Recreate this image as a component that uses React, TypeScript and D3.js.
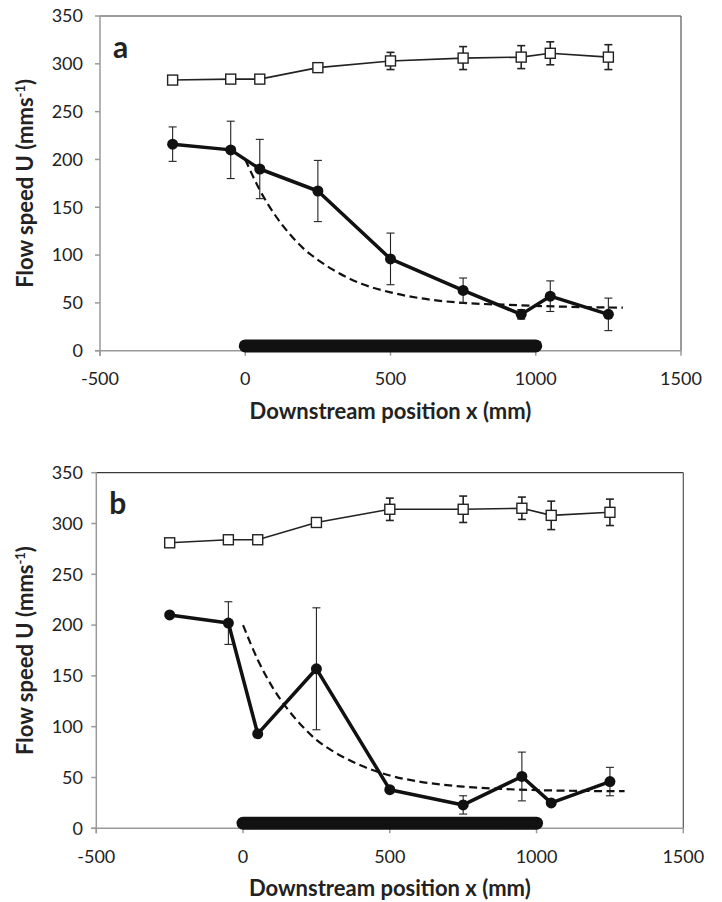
import * as d3 from 'd3'

// sampling positions along the flume (mm)
const xPos = [-250, -50, 50, 250, 500, 750, 950, 1050, 1250]

// panel a
const aOpen = [283, 284, 284, 296, 303, 306, 307, 311, 307]
const aOpenErr = [0, 0, 0, 0, 9, 12, 12, 12, 13]
const aFilled = [216, 210, 190, 167, 96, 63, 38, 57, 38]
const aFilledErr = [18, 30, 31, 32, 27, 13, 5, 16, 17]

// panel b
const bOpen = [281, 284, 284, 301, 314, 314, 315, 308, 311]
const bOpenErr = [2, 0, 0, 0, 11, 13, 11, 14, 13]
const bFilled = [210, 202, 93, 157, 38, 23, 51, 25, 46]
const bFilledErr = [0, 21, 0, 60, 0, 9, 24, 0, 14]

// dashed model curve
const fitX = [0, 50, 100, 150, 200, 250, 300, 400, 500, 600, 750, 900, 1100, 1300]
const aFit = [200, 168, 143, 123, 107, 95, 85, 70, 61, 55, 50, 48, 46, 45]
const bFit = [200, 166, 139, 118, 101, 87, 77, 62, 52, 46, 41, 38.5, 37, 36.5]

// canopy extent (thick bar along the bed)
const canopy = [0, 1000]
const canopyLevel = 5

const xTicks = [-500, 0, 500, 1000, 1500]
const yTicks = [0, 50, 100, 150, 200, 250, 300, 350]

const FONT = 'Lato, "Open Sans", sans-serif'

type Box = { left: number; top: number; right: number; bottom: number }

function Panel({ letter, box, open, openErr, filled, filledErr, fit }: {
  letter: string; box: Box; open: number[]; openErr: number[]; filled: number[]; filledErr: number[]; fit: number[]
}) {
  const x = d3.scaleLinear().domain([-500, 1500]).range([box.left, box.right])
  const y = d3.scaleLinear().domain([0, 350]).range([box.bottom, box.top])

  const line = d3.line<[number, number]>().x(d => x(d[0])).y(d => y(d[1]))
  const fitLine = d3.line<[number, number]>().x(d => x(d[0])).y(d => y(d[1])).curve(d3.curveMonotoneX)

  const openPts = xPos.map((v, i) => [v, open[i]] as [number, number])
  const filledPts = xPos.map((v, i) => [v, filled[i]] as [number, number])
  const fitPts = fitX.map((v, i) => [v, fit[i]] as [number, number])

  const midY = (box.top + box.bottom) / 2

  return (
    <g>
      {/* frame */}
      <line x1={box.left} x2={box.right} y1={box.top} y2={box.top} stroke="#3a3a3a" strokeWidth={1.2} />
      <line x1={box.right} x2={box.right} y1={box.top} y2={box.bottom} stroke="#555" strokeWidth={1.2} />
      <line x1={box.left} x2={box.left} y1={box.top} y2={box.bottom + 5} stroke="#9a9a9a" strokeWidth={1.5} />
      <line x1={box.left - 5} x2={box.right} y1={box.bottom} y2={box.bottom} stroke="#9a9a9a" strokeWidth={1.5} />

      {yTicks.map(t => (
        <g key={'y' + t}>
          <line x1={box.left - 5} x2={box.left} y1={y(t)} y2={y(t)} stroke="#9a9a9a" strokeWidth={1.5} />
          <text x={83} y={y(t)} dy="0.35em" textAnchor="end" fontSize={18} fill="#222" fontFamily={FONT}>{t}</text>
        </g>
      ))}
      {xTicks.map(t => (
        <g key={'x' + t}>
          <line x1={x(t)} x2={x(t)} y1={box.bottom} y2={box.bottom + 5} stroke="#9a9a9a" strokeWidth={1.5} />
          <text x={x(t)} y={box.bottom + 28} dy="0.35em" textAnchor="middle" fontSize={18} fill="#222" fontFamily={FONT}>{t}</text>
        </g>
      ))}

      <text x={(box.left + box.right) / 2} y={box.bottom + 68} textAnchor="middle" fontSize={22} fontWeight="bold" fill="#222" fontFamily={FONT}>
        Downstream position x (mm)
      </text>
      <text transform={`translate(${32.5},${midY}) rotate(-90)`} textAnchor="middle" fontSize={22} fontWeight="bold" fill="#222" fontFamily={FONT}>
        Flow speed U (mms<tspan fontSize={13} dy={-8}>-1</tspan><tspan dy={8}>)</tspan>
      </text>

      <text x={box.left + 13} y={box.top + 41.5} fontSize={30} fontWeight="bold" fill="#222" fontFamily={FONT}>{letter}</text>

      {/* canopy bar */}
      <line x1={x(canopy[0])} x2={x(canopy[1])} y1={y(canopyLevel)} y2={y(canopyLevel)} stroke="#111" strokeWidth={13} strokeLinecap="round" />

      {/* model fit */}
      <path d={fitLine(fitPts) || ''} fill="none" stroke="#111" strokeWidth={2.2} strokeDasharray="8,4.5" />

      {/* open squares series */}
      <path d={line(openPts) || ''} fill="none" stroke="#222" strokeWidth={1.6} />
      {xPos.map((v, i) => openErr[i] > 0 && (
        <g key={'oe' + i} stroke="#222" strokeWidth={1.6}>
          <line x1={x(v)} x2={x(v)} y1={y(open[i] - openErr[i])} y2={y(open[i] + openErr[i])} />
          <line x1={x(v) - 4} x2={x(v) + 4} y1={y(open[i] + openErr[i])} y2={y(open[i] + openErr[i])} />
          <line x1={x(v) - 4} x2={x(v) + 4} y1={y(open[i] - openErr[i])} y2={y(open[i] - openErr[i])} />
        </g>
      ))}
      {xPos.map((v, i) => (
        <rect key={'os' + i} x={x(v) - 5} y={y(open[i]) - 5} width={10} height={10} fill="#fff" stroke="#222" strokeWidth={1.4} />
      ))}

      {/* filled circles series */}
      {xPos.map((v, i) => filledErr[i] > 0 && (
        <g key={'fe' + i} stroke="#222" strokeWidth={1.1}>
          <line x1={x(v)} x2={x(v)} y1={y(filled[i] - filledErr[i])} y2={y(filled[i] + filledErr[i])} />
          <line x1={x(v) - 4} x2={x(v) + 4} y1={y(filled[i] + filledErr[i])} y2={y(filled[i] + filledErr[i])} />
          <line x1={x(v) - 4} x2={x(v) + 4} y1={y(filled[i] - filledErr[i])} y2={y(filled[i] - filledErr[i])} />
        </g>
      ))}
      <path d={line(filledPts) || ''} fill="none" stroke="#111" strokeWidth={3.5} strokeLinejoin="round" />
      {xPos.map((v, i) => (
        <circle key={'fc' + i} cx={x(v)} cy={y(filled[i])} r={5.5} fill="#111" />
      ))}
    </g>
  )
}

export default function App() {
  return (
    <div style={{ position: 'absolute', left: 0, top: 0 }}>
      <svg width={722} height={902} style={{ display: 'block', background: '#fff' }}>
        <Panel letter="a" box={{ left: 100, top: 16, right: 681, bottom: 350.7 }}
          open={aOpen} openErr={aOpenErr} filled={aFilled} filledErr={aFilledErr} fit={aFit} />
        <Panel letter="b" box={{ left: 96.3, top: 472.7, right: 683.3, bottom: 828.3 }}
          open={bOpen} openErr={bOpenErr} filled={bFilled} filledErr={bFilledErr} fit={bFit} />
      </svg>
    </div>
  )
}
